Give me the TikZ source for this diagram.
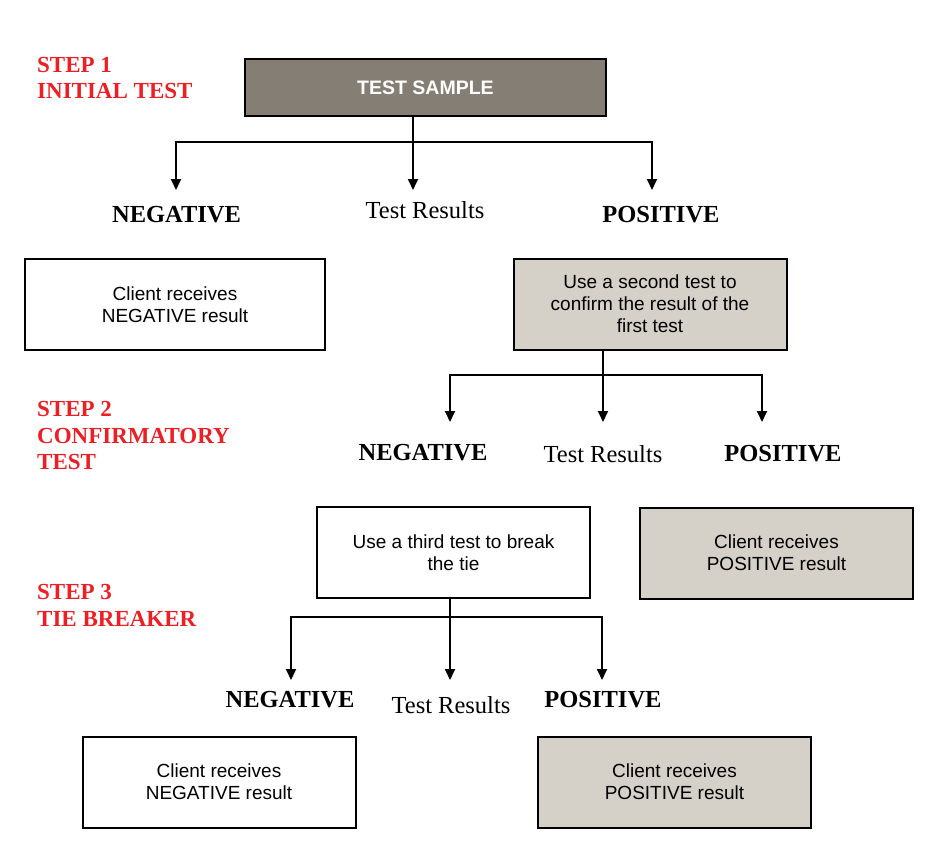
\documentclass[tikz,border=0pt]{standalone}
\usepackage{fontspec}
\setmainfont{Liberation Serif}
\setsansfont{Liberation Sans}
\usetikzlibrary{arrows.meta}
\definecolor{samplefill}{RGB}{133,126,116}
\definecolor{posfill}{RGB}{213,209,201}
\definecolor{stepred}{RGB}{237,30,36}

\begin{document}
\begin{tikzpicture}[
  x=1pt, y=-1pt,
  >={Triangle[width=10pt,length=11pt]},
  box/.style={
    draw,
    line width=2pt,
    minimum width=273pt,
    minimum height=91pt,
    align=center,
    inner sep=2pt,
    font=\sffamily\fontsize{19}{22}\selectfont
  },
  negbox/.style={box, fill=white},
  posbox/.style={box, fill=posfill},
  samplebox/.style={
    box,
    fill=samplefill,
    text=white,
    minimum width=361pt,
    minimum height=57pt,
    font=\sffamily\bfseries\fontsize{19.5}{23}\selectfont
  },
  outcome/.style={anchor=base, inner sep=2pt, font=\bfseries\fontsize{24.5}{28}\selectfont},
  results/.style={anchor=base, inner sep=2pt, font=\fontsize{24.5}{28}\selectfont},
  steplabel/.style={
    anchor=north west,
    inner sep=0pt,
    align=left,
    text=stepred,
    font=\bfseries\fontsize{23}{26.5}\selectfont
  },
  link/.style={line width=1.8pt},
  arrow/.style={->, line width=1.8pt}
]
\useasboundingbox (0,0) rectangle (937,865);

% Step labels
\node[steplabel] (step1) at (37,57) {STEP 1\\INITIAL TEST};
\node[steplabel] (step2) at (37,401.5) {STEP 2\\CONFIRMATORY\\TEST};
\node[steplabel] (step3) at (37,584.5) {STEP 3\\TIE BREAKER};

% Step 1: initial test
\node[samplebox] (sample) at (425.5,87.5) {TEST SAMPLE};
\node[outcome] (neg1) at (176.5,222) {NEGATIVE};
\node[results] (res1) at (425,218) {Test Results};
\node[outcome] (pos1) at (661,222) {POSITIVE};
\node[negbox, minimum width=300pt] (clientneg1) at (175,304.5) {Client receives\\NEGATIVE result};
\node[posbox] (second) at (650,304) {Use a second test to\\confirm the result of the\\first test};

% Step 2: confirmatory test
\node[outcome] (neg2) at (423,460) {NEGATIVE};
\node[results] (res2) at (603,462) {Test Results};
\node[outcome] (pos2) at (783,461) {POSITIVE};
\node[negbox] (third) at (453.5,552.5) {Use a third test to break\\the tie};
\node[posbox] (clientpos2) at (776.5,553) {Client receives\\POSITIVE result};

% Step 3: tie breaker
\node[outcome] (neg3) at (290,707) {NEGATIVE};
\node[results] (res3) at (451,713) {Test Results};
\node[outcome] (pos3) at (603,707) {POSITIVE};
\node[negbox] (clientneg3) at (219,782) {Client receives\\NEGATIVE result};
\node[posbox] (clientpos3) at (674.5,782) {Client receives\\POSITIVE result};

% Forks and arrow tips
\coordinate (fork1) at (413,142);
\coordinate (negtip1) at (176,190);
\coordinate (restip1) at (413,190);
\coordinate (postip1) at (652,190);

\coordinate (fork2) at (603,375);
\coordinate (negtip2) at (450,422);
\coordinate (restip2) at (603,422);
\coordinate (postip2) at (762,422);

\coordinate (fork3) at (450,617);
\coordinate (negtip3) at (291,680);
\coordinate (restip3) at (450,680);
\coordinate (postip3) at (602,680);

% Step 1 connectors
\draw[link] (sample.south -| fork1) -- (fork1);
\draw[arrow] (fork1) -| (negtip1);
\draw[arrow] (fork1) -- (restip1);
\draw[arrow] (fork1) -| (postip1);

% Step 2 connectors
\draw[link] (second.south -| fork2) -- (fork2);
\draw[arrow] (fork2) -| (negtip2);
\draw[arrow] (fork2) -- (restip2);
\draw[arrow] (fork2) -| (postip2);

% Step 3 connectors
\draw[link] (third.south -| fork3) -- (fork3);
\draw[arrow] (fork3) -| (negtip3);
\draw[arrow] (fork3) -- (restip3);
\draw[arrow] (fork3) -| (postip3);

\end{tikzpicture}
\end{document}
